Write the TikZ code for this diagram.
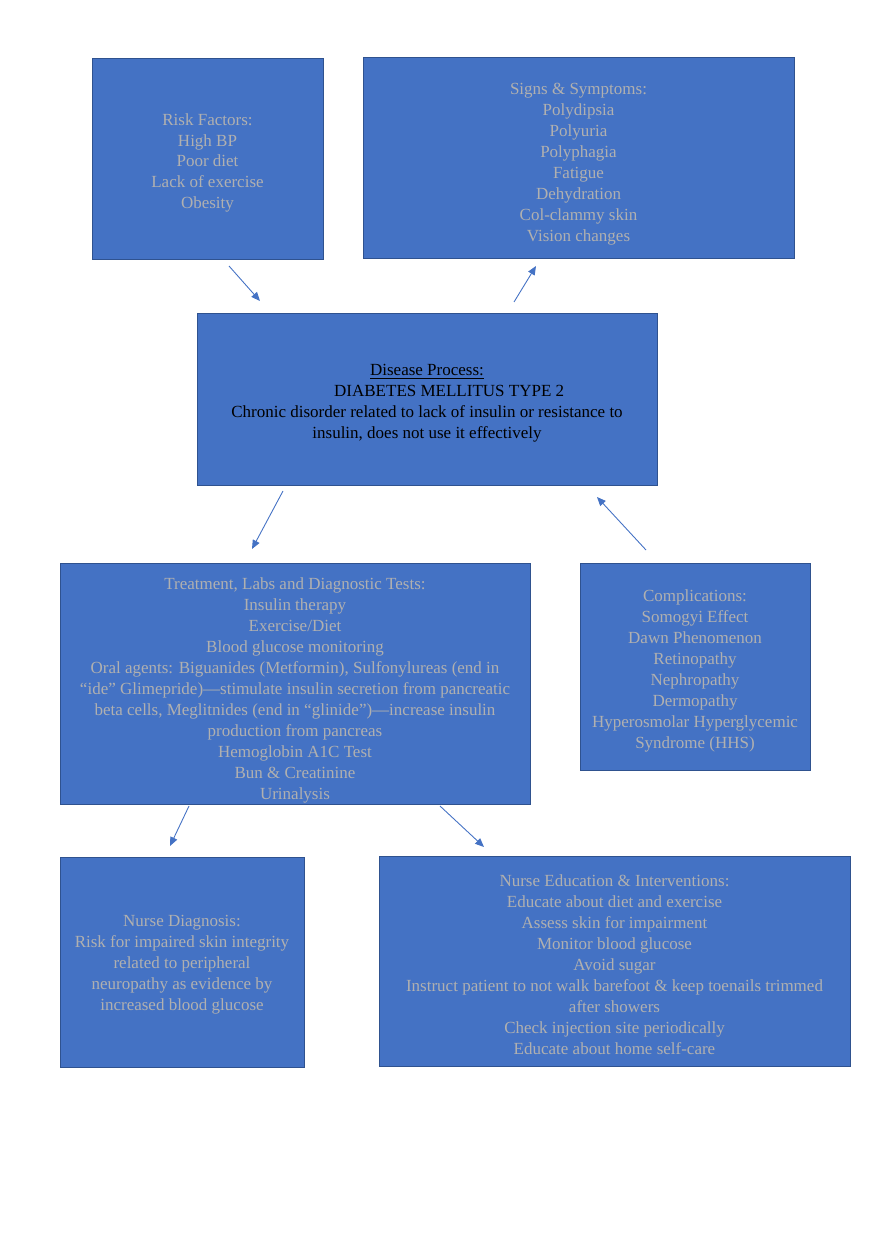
\documentclass[tikz,border=0pt]{standalone}
\usepackage{fontspec}
\setmainfont{Liberation Serif}
\usepackage{tikz}
\usetikzlibrary{arrows.meta, positioning, fit}
\definecolor{boxblue}{HTML}{4472C4}
\definecolor{boxedge}{HTML}{2F528F}
\definecolor{txtgrey}{HTML}{B0B0B0}

\begin{document}
\begin{tikzpicture}[x=0.67646pt, y=-0.67646pt,
    box/.style={draw=boxedge, fill=boxblue, line width=0.6pt, inner sep=0pt, outer sep=0pt},
    boxlabel/.style={align=center, text=txtgrey, inner sep=0pt, font=\fontsize{11.5}{14.2}\selectfont},
    link/.style={draw=boxblue, line width=0.6pt, -{Triangle[length=6pt, width=5pt]}}]
\useasboundingbox (0,0) rectangle (880,1247);

% Risk factors
\node[box, fit={(92,58) (323,259)}] (risk) {};
\node[boxlabel] (risk-txt) at ([yshift=-3pt]risk.center) {Risk Factors:\\High BP\\Poor diet\\Lack of exercise\\Obesity};

% Signs and symptoms
\node[box, fit={(363,57) (794,258)}] (signs) {};
\node[boxlabel] (signs-txt) at ([yshift=-4.5pt]signs.center) {Signs \& Symptoms:\\Polydipsia\\Polyuria\\Polyphagia\\Fatigue\\Dehydration\\Col-clammy skin\\Vision changes};

% Disease process
\node[box, fit={(197,313) (657,485)}] (disease) {};
\node[boxlabel, text=black] (disease-txt) at ([yshift=-3pt]disease.center) {\underline{Disease Process:}\\\hspace*{30pt}DIABETES MELLITUS TYPE 2\\Chronic disorder related to lack of insulin or resistance to\\insulin, does not use it effectively};

% Treatment, labs and tests
\node[box, fit={(60,563) (530,804)}] (treat) {};
\node[boxlabel] (treat-txt) at ([yshift=-4.5pt]treat.center) {Treatment, Labs and Diagnostic Tests:\\Insulin therapy\\Exercise/Diet\\Blood glucose monitoring\\Oral agents: Biguanides (Metformin), Sulfonylureas (end in\\“ide” Glimepride)—stimulate insulin secretion from pancreatic\\beta cells, Meglitnides (end in “glinide”)—increase insulin\\production from pancreas\\Hemoglobin A1C Test\\Bun \& Creatinine\\Urinalysis};

% Complications
\node[box, fit={(580,563) (810,770)}] (compl) {};
\node[boxlabel] (compl-txt) at ([yshift=-3pt]compl.center) {Complications:\\Somogyi Effect\\Dawn Phenomenon\\Retinopathy\\Nephropathy\\Dermopathy\\Hyperosmolar Hyperglycemic\\Syndrome (HHS)};

% Nurse diagnosis
\node[box, fit={(60,857) (304,1067)}] (diag) {};
\node[boxlabel] (diag-txt) at ([yshift=-2pt]diag.center) {Nurse Diagnosis:\\Risk for impaired skin integrity\\related to peripheral\\neuropathy as evidence by\\increased blood glucose};

% Nurse education
\node[box, fit={(379,856) (850,1066)}] (educ) {};
\node[boxlabel] (educ-txt) at ([yshift=-2.5pt]educ.center) {Nurse Education \& Interventions:\\Educate about diet and exercise\\Assess skin for impairment\\Monitor blood glucose\\Avoid sugar\\Instruct patient to not walk barefoot \& keep toenails trimmed\\after showers\\Check injection site periodically\\Educate about home self-care};

% Arrows
\draw[link] ([shift={(137,7)}]risk.south west) -- ([shift={(63,-12)}]disease.north west);
\draw[link] ([shift={(317,-11)}]disease.north west) -- ([shift={(173,8)}]signs.south west);
\draw[link] ([shift={(86,6)}]disease.south west) -- ([shift={(192,-14)}]treat.north west);
\draw[link] ([shift={(66,-13)}]compl.north west) -- ([shift={(-60,12)}]disease.south east);
\draw[link] ([shift={(129,2)}]treat.south west) -- ([shift={(110,-11)}]diag.north west);
\draw[link] ([shift={(380,2)}]treat.south west) -- ([shift={(105,-9)}]educ.north west);
\end{tikzpicture}
\end{document}
